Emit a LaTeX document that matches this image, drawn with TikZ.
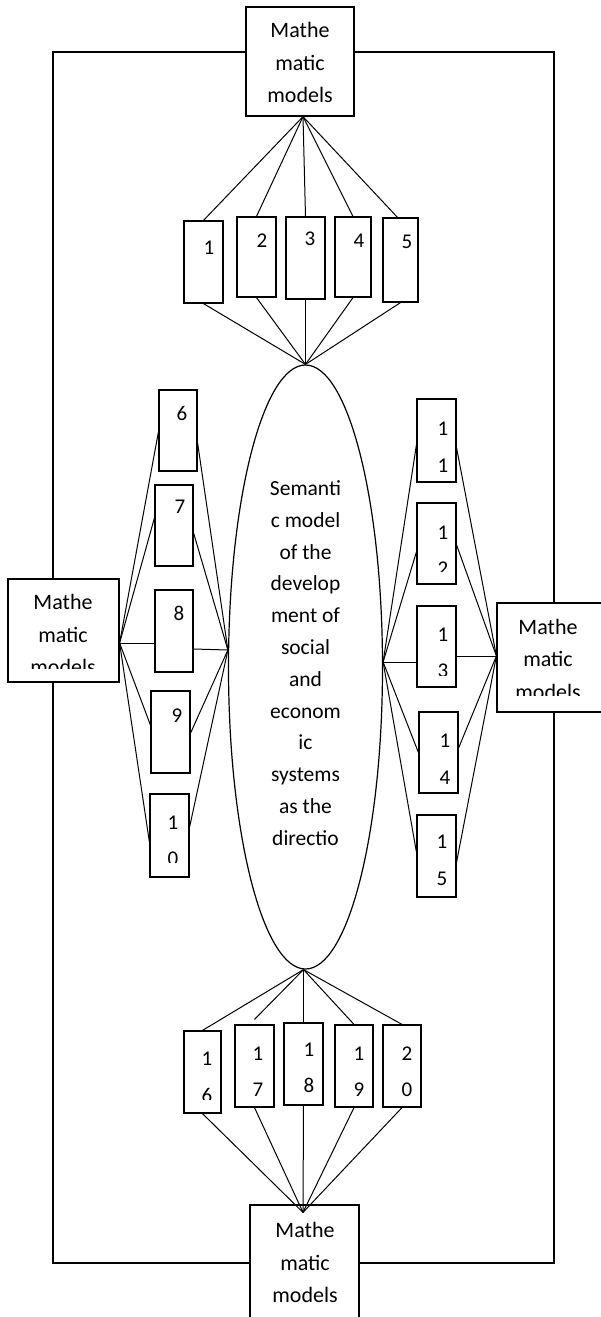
\documentclass[tikz,border=0pt]{standalone}
\usepackage{fontspec}
\setmainfont{Carlito}
\usetikzlibrary{shapes.geometric,calc}

% rectangle node from its corner coordinates: name, x1, y1, x2, y2
\newcommand\mkbox[5]{%
  \node[box, minimum width={(#4)-(#2)}, minimum height={(#5)-(#3)}]
    (#1) at ({((#2)+(#4))/2},{((#3)+(#5))/2}) {};}

\begin{document}
\begin{tikzpicture}[x=1pt, y=-1pt, line width=1.2pt,
  box/.style={draw, rectangle, inner sep=0pt, fill=white},
  txt/.style={font=\fontsize{22}{32.5}\selectfont, align=center, inner sep=0pt},
  digit/.style={font=\fontsize{21}{36.5}\selectfont, align=center, inner sep=0pt},
  spoke/.style={line width=1pt}]
\useasboundingbox (0,0) rectangle (601,1317);

% the four "Mathematic models" boxes
\mkbox{mt}{246}{7}{354}{116}
\mkbox{ml}{8}{579}{119}{682}
\mkbox{mr}{497}{603}{603}{712}
\mkbox{mb}{250}{1205}{359}{1320}

% central ellipse
\node[draw, ellipse, minimum width=154, minimum height=604, inner sep=0pt]
  (el) at (305.5,667) {};
\node[txt, font=\fontsize{21.5}{31.8}\selectfont] (elt) at (305.5,663)
  {Semanti\\c model\\of the\\develop\\ment of\\social\\and\\econom\\ic\\systems\\as the\\directio};

% numbered boxes
\mkbox{b1}{184}{221}{223}{303}
\mkbox{b2}{237}{217}{276}{297}
\mkbox{b3}{286}{217}{325}{299}
\mkbox{b4}{335}{217}{371}{297}
\mkbox{b5}{383}{218}{418}{302}
\mkbox{b6}{159}{390}{197}{471}
\mkbox{b7}{155}{485}{193}{566}
\mkbox{b8}{155}{590}{193}{672}
\mkbox{b9}{151}{691}{190}{773}
\mkbox{b10}{150}{794}{189}{877}
\mkbox{b11}{417}{399}{456}{482}
\mkbox{b12}{417}{503}{456}{584}
\mkbox{b13}{417}{606}{456}{687}
\mkbox{b14}{419}{712}{458}{793}
\mkbox{b15}{417}{815}{456}{897}
\mkbox{b16}{184}{1031}{221}{1113}
\mkbox{b17}{235}{1025}{274}{1107}
\mkbox{b18}{284}{1023}{323}{1105}
\mkbox{b19}{335}{1025}{373}{1107}
\mkbox{b20}{383}{1025}{421}{1107}

% labels of the big boxes (the side ones are cut off by their text area)
\node[txt] (mtt) at (300,62.5) {Mathe\\matic\\models};
\node[txt] (mbt) at (305,1262.5) {Mathe\\matic\\models};
\begin{scope}
  \clip ($(ml.south west)+(0,-14)$) rectangle (ml.north east);
  \node[txt] (mlt) at (63,634.5) {Mathe\\matic\\models};
\end{scope}
\begin{scope}
  \clip ($(mr.south west)+(0,-17)$) rectangle (mr.north east);
  \node[txt] (mrt) at (548,659) {Mathe\\matic\\models};
\end{scope}

% labels of the numbered boxes
\node[digit] (t1) at (209,248) {1};
\node[digit] (t2) at (262,241) {2};
\node[digit] (t3) at (310,239) {3};
\node[digit] (t4) at (359,241) {4};
\node[digit] (t5) at (407,242) {5};
\node[digit] (t6) at (182,413) {6};
\node[digit] (t7) at (180,507) {7};
\node[digit] (t8) at (179,613) {8};
\node[digit] (t9) at (177,716) {9};
\begin{scope}
  \clip ($(b10.south west)+(0,-15)$) rectangle (b10.north east);
  \node[digit] (t10) at (173,841) {1\\0};
\end{scope}
\node[digit] (t11) at (443,447) {1\\1};
\begin{scope}
  \clip ($(b12.south west)+(0,-13)$) rectangle (b12.north east);
  \node[digit] (t12) at (443,550.5) {1\\2};
\end{scope}
\begin{scope}
  \clip ($(b13.south west)+(0,-12.5)$) rectangle (b13.north east);
  \node[digit] (t13) at (443,653) {1\\3};
\end{scope}
\node[digit] (t14) at (445,759) {1\\4};
\node[digit] (t15) at (442,860.5) {1\\5};
\begin{scope}
  \clip ($(b16.south west)+(0,-14)$) rectangle (b16.north east);
  \node[digit] (t16) at (207,1077.5) {1\\6};
\end{scope}
\node[digit] (t17) at (258,1071.5) {1\\7};
\node[digit] (t18) at (309,1068) {1\\8};
\node[digit] (t19) at (359,1071.5) {1\\9};
\node[digit] (t20) at (407,1071.5) {2\\0};

% outer frame joining the four big boxes
\coordinate (ftl) at (53,52);
\coordinate (ftr) at (554,52);
\coordinate (fbr) at (554,1263);
\coordinate (fbl) at (53,1263);
\draw (mt.west |- ftl) -- (ftl) -- (ftl |- ml.north);
\draw (ml.south -| ftl) -- (fbl) -- (fbl -| mb.west);
\draw (mb.east |- fbr) -- (fbr) -- (fbr |- mr.south);
\draw (mr.north -| ftr) -- (ftr) -- (ftr -| mt.east);

% hubs where the fans meet
\coordinate (thub) at ($(mt.south)+(3,0)$);
\coordinate (lhub) at ($(ml.east)+(0,12.5)$);
\coordinate (rhub) at ($(mr.west)+(0,-1.5)$);
\coordinate (bhub) at ($(mb.north)+(-1.5,8)$);
\coordinate (etop) at (el.north);
\coordinate (ebot) at ($(el.south)+(-2,0)$);
\coordinate (elft) at ($(el.west)+(0,-17)$);
\coordinate (ergt) at ($(el.east)+(0,-5)$);

% top fan
\foreach \i in {1,...,4} \draw[spoke] (thub) -- (b\i.north);
\draw[spoke] (thub) -- ($(b5.north)+(-3,0)$);
\foreach \i in {1,...,5} \draw[spoke] (b\i.south) -- (etop);

% left fan
\draw[spoke] (lhub) -- ($(b6.west)+(0,1.5)$);
\draw[spoke] (lhub) -- ($(b7.west)+(0,-7.5)$);
\draw[spoke] (lhub) -- ($(b8.west)+(0,12)$);
\draw[spoke] (lhub) -- ($(b9.west)+(0,-7)$);
\draw[spoke] (lhub) -- ($(b10.west)+(0,6.5)$);
\draw[spoke] ($(b6.east)+(0,12.5)$) -- (elft);
\draw[spoke] ($(b7.east)+(0,7.5)$) -- (elft);
\draw[spoke] ($(b8.east)+(0,18)$) -- (elft);
\draw[spoke] ($(b9.east)+(0,1)$) -- (elft);
\draw[spoke] ($(b10.east)+(0,-8.5)$) -- (elft);

% right fan
\draw[spoke] (ergt) -- ($(b11.west)+(0,4.5)$);
\draw[spoke] (ergt) -- ($(b12.west)+(0,8.5)$);
\draw[spoke] (ergt) -- ($(b13.west)+(0,15.5)$);
\draw[spoke] (ergt) -- (b14.west);
\draw[spoke] (ergt) -- ($(b15.west)+(0,-4)$);
\draw[spoke] ($(b11.east)+(0,7.5)$) -- (rhub);
\draw[spoke] ($(b12.east)+(0,1.5)$) -- (rhub);
\draw[spoke] ($(b13.east)+(0,9.5)$) -- (rhub);
\draw[spoke] ($(b14.east)+(0,-4.5)$) -- (rhub);
\draw[spoke] ($(b15.east)+(0,6)$) -- (rhub);

% bottom fan
\draw[spoke] (ebot) -- (b16.north);
\draw[spoke] (ebot) -- ($(b17.north)+(0,-5)$);
\foreach \i in {18,19,20} \draw[spoke] (ebot) -- (b\i.north);
\foreach \i in {16,...,20} \draw[spoke] (b\i.south) -- (bhub);
\end{tikzpicture}
\end{document}
